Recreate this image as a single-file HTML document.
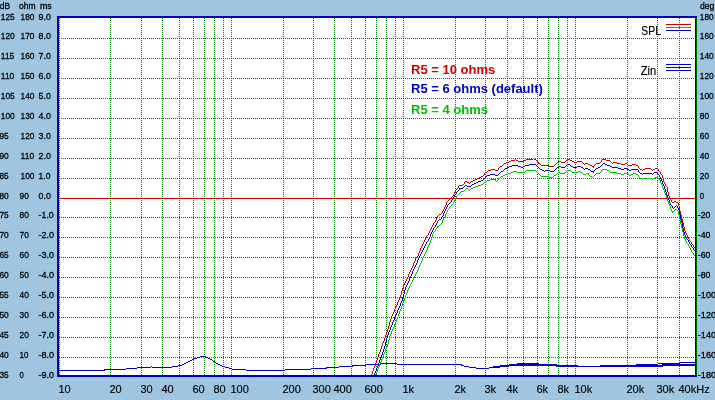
<!DOCTYPE html>
<html><head><meta charset="utf-8"><title>Frequency response</title>
<style>html,body{margin:0;padding:0;background:#9fc5e0;overflow:hidden}body{width:715px;height:400px}</style></head>
<body>
<svg width="715" height="400" viewBox="0 0 715 400" style="display:block">
<rect x="0" y="0" width="715" height="400" fill="#9fc5e0"/>
<rect x="59" y="18" width="636" height="357" fill="#ffffff"/>
<g stroke="#008000" stroke-width="1" shape-rendering="crispEdges" fill="none"><line x1="59" y1="38.5" x2="695" y2="38.5" stroke-dasharray="1 1" stroke-dashoffset="0"/><line x1="59" y1="58.5" x2="695" y2="58.5" stroke-dasharray="1 1" stroke-dashoffset="0"/><line x1="59" y1="78.5" x2="695" y2="78.5" stroke-dasharray="1 1" stroke-dashoffset="0"/><line x1="59" y1="98.5" x2="695" y2="98.5" stroke-dasharray="1 1" stroke-dashoffset="0"/><line x1="59" y1="118.5" x2="695" y2="118.5" stroke-dasharray="1 1" stroke-dashoffset="0"/><line x1="59" y1="138.5" x2="695" y2="138.5" stroke-dasharray="1 1" stroke-dashoffset="0"/><line x1="59" y1="158.5" x2="695" y2="158.5" stroke-dasharray="1 1" stroke-dashoffset="0"/><line x1="59" y1="178.5" x2="695" y2="178.5" stroke-dasharray="1 1" stroke-dashoffset="0"/><line x1="59" y1="217.5" x2="695" y2="217.5" stroke-dasharray="1 1" stroke-dashoffset="0"/><line x1="59" y1="237.5" x2="695" y2="237.5" stroke-dasharray="1 1" stroke-dashoffset="0"/><line x1="59" y1="257.5" x2="695" y2="257.5" stroke-dasharray="1 1" stroke-dashoffset="0"/><line x1="59" y1="277.5" x2="695" y2="277.5" stroke-dasharray="1 1" stroke-dashoffset="0"/><line x1="59" y1="297.5" x2="695" y2="297.5" stroke-dasharray="1 1" stroke-dashoffset="0"/><line x1="59" y1="317.5" x2="695" y2="317.5" stroke-dasharray="1 1" stroke-dashoffset="0"/><line x1="59" y1="337.5" x2="695" y2="337.5" stroke-dasharray="1 1" stroke-dashoffset="0"/><line x1="59" y1="357.5" x2="695" y2="357.5" stroke-dasharray="1 1" stroke-dashoffset="0"/><line x1="59.5" y1="18" x2="59.5" y2="375" stroke-dasharray="1 1"/><line x1="110.5" y1="18" x2="110.5" y2="375" stroke-dasharray="1 1"/><line x1="141.5" y1="18" x2="141.5" y2="375" stroke-dasharray="1 1"/><line x1="162.5" y1="18" x2="162.5" y2="375" stroke-dasharray="1 1"/><line x1="179.5" y1="18" x2="179.5" y2="375" stroke-dasharray="1 1"/><line x1="193.5" y1="18" x2="193.5" y2="375" stroke-dasharray="1 1"/><line x1="204.5" y1="18" x2="204.5" y2="375" stroke-dasharray="1 1"/><line x1="214.5" y1="18" x2="214.5" y2="375" stroke-dasharray="1 1"/><line x1="223.5" y1="18" x2="223.5" y2="375" stroke-dasharray="1 1"/><line x1="231.5" y1="18" x2="231.5" y2="375" stroke-dasharray="1 1"/><line x1="283.5" y1="18" x2="283.5" y2="375" stroke-dasharray="1 1"/><line x1="313.5" y1="18" x2="313.5" y2="375" stroke-dasharray="1 1"/><line x1="334.5" y1="18" x2="334.5" y2="375" stroke-dasharray="1 1"/><line x1="351.5" y1="18" x2="351.5" y2="375" stroke-dasharray="1 1"/><line x1="365.5" y1="18" x2="365.5" y2="375" stroke-dasharray="1 1"/><line x1="376.5" y1="18" x2="376.5" y2="375" stroke-dasharray="1 1"/><line x1="386.5" y1="18" x2="386.5" y2="375" stroke-dasharray="1 1"/><line x1="395.5" y1="18" x2="395.5" y2="375" stroke-dasharray="1 1"/><line x1="403.5" y1="18" x2="403.5" y2="375" stroke-dasharray="1 1"/><line x1="455.5" y1="18" x2="455.5" y2="375" stroke-dasharray="1 1"/><line x1="485.5" y1="18" x2="485.5" y2="375" stroke-dasharray="1 1"/><line x1="507.5" y1="18" x2="507.5" y2="375" stroke-dasharray="1 1"/><line x1="523.5" y1="18" x2="523.5" y2="375" stroke-dasharray="1 1"/><line x1="537.5" y1="18" x2="537.5" y2="375" stroke-dasharray="1 1"/><line x1="548.5" y1="18" x2="548.5" y2="375" stroke-dasharray="1 1"/><line x1="558.5" y1="18" x2="558.5" y2="375" stroke-dasharray="1 1"/><line x1="567.5" y1="18" x2="567.5" y2="375" stroke-dasharray="1 1"/><line x1="575.5" y1="18" x2="575.5" y2="375" stroke-dasharray="1 1"/><line x1="627.5" y1="18" x2="627.5" y2="375" stroke-dasharray="1 1"/><line x1="657.5" y1="18" x2="657.5" y2="375" stroke-dasharray="1 1"/><line x1="679.5" y1="18" x2="679.5" y2="375" stroke-dasharray="1 1"/></g>
<rect x="59" y="198" width="636" height="1" fill="#c80000"/>
<svg x="59" y="18" width="636" height="357" viewBox="59 18 636 357">
<g fill="none" stroke-width="1" shape-rendering="crispEdges" stroke-linejoin="round"><path d="M200 356.5h6M197 357.5h3M206 357.5h2M194 358.5h3M208 358.5h2M192 359.5h2M210 359.5h2M190 360.5h2M212 360.5h1M188 361.5h2M213 361.5h2M186 362.5h2M215 362.5h1M184 363.5h2M216 363.5h2M380 363.5h17M182 364.5h2M218 364.5h2M365 364.5h16M397 364.5h65M178 365.5h4M220 365.5h2M352 365.5h14M461 365.5h3M509 365.5h48M662 365.5h34M151 366.5h1M172 366.5h6M222 366.5h3M339 366.5h14M464 366.5h5M500 366.5h9M556 366.5h107M137 367.5h14M152 367.5h20M225 367.5h4M326 367.5h13M469 367.5h7M489 367.5h11M126 368.5h11M229 368.5h3M311 368.5h16M476 368.5h13M104 369.5h22M232 369.5h14M285 369.5h26M59 370.5h46M246 370.5h39" stroke="#0000c0" /><path d="M509 364.5h30M662 364.5h34M500 365.5h9M538 365.5h28M636 365.5h27M493 366.5h7M565 366.5h72M492 367.5h1" stroke="#0000c0" /><path d="M679 362.5h17M517 363.5h22M658 363.5h22M509 364.5h9M539 364.5h18M636 364.5h22M500 365.5h9M556 365.5h22M600 365.5h37M493 366.5h7M578 366.5h23M492 367.5h1" stroke="#0000c0" /><path d="M602 169.5h5M526 170.5h10M567 170.5h4M601 170.5h1M607 170.5h2M513 171.5h4M525 171.5h1M536 171.5h1M566 171.5h1M571 171.5h1M578 171.5h2M601 171.5h1M609 171.5h1M511 172.5h2M517 172.5h8M537 172.5h1M558 172.5h2M565 172.5h1M572 172.5h6M580 172.5h2M600 172.5h1M610 172.5h7M508 173.5h3M538 173.5h1M557 173.5h1M560 173.5h5M582 173.5h1M586 173.5h3M596 173.5h4M617 173.5h4M624 173.5h4M633 173.5h3M505 174.5h3M539 174.5h1M556 174.5h1M583 174.5h3M588 174.5h1M595 174.5h1M621 174.5h3M628 174.5h1M631 174.5h2M636 174.5h2M503 175.5h2M540 175.5h1M554 175.5h2M589 175.5h1M594 175.5h1M629 175.5h2M638 175.5h1M501 176.5h2M541 176.5h8M553 176.5h1M590 176.5h2M593 176.5h1M638 176.5h1M500 177.5h1M549 177.5h4M592 177.5h1M639 177.5h1M655 177.5h3M498 178.5h2M640 178.5h2M643 178.5h9M653 178.5h2M658 178.5h1M490 179.5h6M498 179.5h1M642 179.5h1M652 179.5h1M659 179.5h1M487 180.5h3M495 180.5h1M497 180.5h1M660 180.5h1M486 181.5h1M496 181.5h1M660 181.5h1M484 182.5h2M660 182.5h1M483 183.5h1M661 183.5h1M481 184.5h2M661 184.5h1M478 185.5h3M662 185.5h1M475 186.5h3M662 186.5h1M473 187.5h2M662 187.5h1M466 188.5h2M471 188.5h2M663 188.5h1M465 189.5h1M468 189.5h1M470 189.5h1M663 189.5h1M464 190.5h1M469 190.5h1M664 190.5h1M461 191.5h3M664 191.5h1M460 192.5h1M664 192.5h1M459 193.5h1M665 193.5h1M458 194.5h1M665 194.5h1M457 195.5h1M666 195.5h1M456 196.5h1M666 196.5h1M456 197.5h1M666 197.5h1M455 198.5h1M667 198.5h1M455 199.5h1M667 199.5h1M454 200.5h1M667 200.5h1M454 201.5h1M668 201.5h1M453 202.5h1M668 202.5h1M453 203.5h1M668 203.5h1M452 204.5h1M669 204.5h1M451 205.5h1M669 205.5h1M450 206.5h1M670 206.5h1M449 207.5h1M670 207.5h1M449 208.5h1M670 208.5h1M448 209.5h1M671 209.5h1M675 209.5h2M447 210.5h1M671 210.5h1M674 210.5h1M677 210.5h1M447 211.5h1M672 211.5h2M678 211.5h1M446 212.5h1M672 212.5h1M678 212.5h1M446 213.5h1M678 213.5h1M445 214.5h1M678 214.5h1M445 215.5h1M679 215.5h1M445 216.5h1M679 216.5h1M444 217.5h1M679 217.5h1M443 218.5h1M679 218.5h1M443 219.5h1M680 219.5h1M442 220.5h1M680 220.5h1M442 221.5h1M680 221.5h1M442 222.5h1M680 222.5h1M441 223.5h1M680 223.5h1M440 224.5h1M681 224.5h1M439 225.5h1M681 225.5h1M437 226.5h2M681 226.5h1M437 227.5h1M681 227.5h1M436 228.5h1M682 228.5h1M435 229.5h1M682 229.5h1M435 230.5h1M682 230.5h1M434 231.5h1M682 231.5h1M433 232.5h1M683 232.5h1M433 233.5h1M683 233.5h1M432 234.5h1M683 234.5h1M432 235.5h1M683 235.5h1M432 236.5h1M684 236.5h1M431 237.5h1M684 237.5h1M431 238.5h1M684 238.5h1M431 239.5h1M685 239.5h1M430 240.5h1M685 240.5h1M430 241.5h1M686 241.5h1M430 242.5h1M686 242.5h1M429 243.5h1M687 243.5h1M429 244.5h1M688 244.5h1M428 245.5h1M688 245.5h1M428 246.5h1M689 246.5h1M427 247.5h1M689 247.5h1M427 248.5h1M690 248.5h1M427 249.5h1M690 249.5h1M426 250.5h1M691 250.5h1M426 251.5h1M691 251.5h1M425 252.5h1M692 252.5h1M425 253.5h1M693 253.5h1M424 254.5h1M693 254.5h1M424 255.5h1M694 255.5h1M423 256.5h1M695 256.5h1M423 257.5h1M695 257.5h1M422 258.5h1M422 259.5h1M422 260.5h1M421 261.5h1M421 262.5h1M420 263.5h1M420 264.5h1M419 265.5h1M419 266.5h1M418 267.5h1M418 268.5h1M418 269.5h1M417 270.5h1M417 271.5h1M416 272.5h1M416 273.5h1M415 274.5h1M415 275.5h1M414 276.5h1M414 277.5h1M413 278.5h1M413 279.5h1M412 280.5h1M412 281.5h1M411 282.5h1M411 283.5h1M410 284.5h1M410 285.5h1M409 286.5h1M409 287.5h1M408 288.5h1M408 289.5h1M407 290.5h1M407 291.5h1M407 292.5h1M406 293.5h1M406 294.5h1M405 295.5h1M405 296.5h1M405 297.5h1M404 298.5h1M404 299.5h1M404 300.5h1M403 301.5h1M403 302.5h1M402 303.5h1M402 304.5h1M402 305.5h1M401 306.5h1M401 307.5h1M401 308.5h1M400 309.5h1M400 310.5h1M399 311.5h1M399 312.5h1M399 313.5h1M398 314.5h1M398 315.5h1M398 316.5h1M397 317.5h1M397 318.5h1M396 319.5h1M396 320.5h1M396 321.5h1M395 322.5h1M395 323.5h1M394 324.5h1M394 325.5h1M394 326.5h1M393 327.5h1M393 328.5h1M392 329.5h1M392 330.5h1M391 331.5h1M391 332.5h1M391 333.5h1M390 334.5h1M390 335.5h1M389 336.5h1M389 337.5h1M389 338.5h1M389 339.5h1M388 340.5h1M388 341.5h1M388 342.5h1M388 343.5h1M387 344.5h1M387 345.5h1M387 346.5h1M386 347.5h1M386 348.5h1M385 349.5h1M385 350.5h1M385 351.5h1M384 352.5h1M384 353.5h1M383 354.5h1M383 355.5h1M383 356.5h1M382 357.5h1M382 358.5h1M381 359.5h1M381 360.5h1M381 361.5h1M380 362.5h1M380 363.5h1M379 364.5h1M379 365.5h1M379 366.5h1M378 367.5h1M378 368.5h1M377 369.5h1M377 370.5h1M377 371.5h1M376 372.5h1M376 373.5h1M375 374.5h1M375 375.5h1" stroke="#00c000" /><path d="M533 158.5h1M515 159.5h1M526 159.5h7M534 159.5h2M567 159.5h3M602 159.5h4M511 160.5h4M516 160.5h2M524 160.5h2M536 160.5h1M566 160.5h1M570 160.5h2M601 160.5h1M606 160.5h4M509 161.5h2M518 161.5h6M537 161.5h1M558 161.5h3M565 161.5h1M572 161.5h2M577 161.5h5M601 161.5h1M610 161.5h1M506 162.5h3M538 162.5h1M557 162.5h1M561 162.5h4M574 162.5h3M582 162.5h1M600 162.5h1M611 162.5h1M613 162.5h4M504 163.5h2M538 163.5h2M556 163.5h1M583 163.5h1M585 163.5h3M596 163.5h4M612 163.5h1M617 163.5h4M625 163.5h2M503 164.5h1M540 164.5h1M555 164.5h1M584 164.5h1M588 164.5h2M595 164.5h1M621 164.5h4M627 164.5h1M632 164.5h4M502 165.5h1M541 165.5h8M554 165.5h1M590 165.5h2M594 165.5h1M628 165.5h4M636 165.5h2M500 166.5h2M549 166.5h5M592 166.5h2M638 166.5h1M499 167.5h1M593 167.5h1M638 167.5h1M498 168.5h1M639 168.5h1M645 168.5h6M655 168.5h3M491 169.5h4M498 169.5h1M640 169.5h2M643 169.5h2M651 169.5h1M653 169.5h2M658 169.5h1M488 170.5h3M495 170.5h3M642 170.5h1M652 170.5h1M658 170.5h1M487 171.5h1M659 171.5h1M485 172.5h2M660 172.5h1M484 173.5h1M660 173.5h1M484 174.5h1M661 174.5h1M483 175.5h1M662 175.5h1M481 176.5h2M662 176.5h1M479 177.5h2M662 177.5h1M477 178.5h2M663 178.5h1M475 179.5h2M663 179.5h1M473 180.5h2M663 180.5h1M465 181.5h2M471 181.5h2M663 181.5h1M464 182.5h1M467 182.5h2M470 182.5h1M664 182.5h1M464 183.5h1M469 183.5h1M664 183.5h1M463 184.5h1M665 184.5h1M459 185.5h4M665 185.5h1M458 186.5h1M666 186.5h1M458 187.5h1M667 187.5h1M457 188.5h1M667 188.5h1M456 189.5h1M667 189.5h1M455 190.5h1M667 190.5h1M455 191.5h1M667 191.5h1M454 192.5h1M668 192.5h1M454 193.5h1M668 193.5h1M453 194.5h1M668 194.5h1M453 195.5h1M668 195.5h1M452 196.5h1M669 196.5h1M451 197.5h1M669 197.5h1M450 198.5h1M670 198.5h1M449 199.5h1M670 199.5h1M448 200.5h1M671 200.5h1M447 201.5h1M671 201.5h1M674 201.5h2M446 202.5h1M672 202.5h2M676 202.5h2M446 203.5h1M678 203.5h1M446 204.5h1M678 204.5h1M445 205.5h1M678 205.5h1M445 206.5h1M679 206.5h1M444 207.5h1M679 207.5h1M444 208.5h1M679 208.5h1M443 209.5h1M679 209.5h1M443 210.5h1M679 210.5h1M442 211.5h1M680 211.5h1M442 212.5h1M680 212.5h1M441 213.5h1M680 213.5h1M439 214.5h2M680 214.5h1M438 215.5h1M681 215.5h1M437 216.5h1M681 216.5h1M436 217.5h1M681 217.5h1M436 218.5h1M681 218.5h1M436 219.5h1M682 219.5h1M435 220.5h1M682 220.5h1M435 221.5h1M682 221.5h1M434 222.5h1M682 222.5h1M433 223.5h1M683 223.5h1M433 224.5h1M683 224.5h1M432 225.5h1M683 225.5h1M432 226.5h1M683 226.5h1M431 227.5h1M684 227.5h1M431 228.5h1M684 228.5h1M430 229.5h1M684 229.5h1M430 230.5h1M684 230.5h1M429 231.5h1M685 231.5h1M429 232.5h1M685 232.5h1M428 233.5h1M686 233.5h1M428 234.5h1M686 234.5h1M427 235.5h1M687 235.5h1M426 236.5h1M687 236.5h1M426 237.5h1M688 237.5h1M425 238.5h1M688 238.5h1M425 239.5h1M689 239.5h1M424 240.5h1M689 240.5h1M424 241.5h1M690 241.5h1M423 242.5h1M691 242.5h1M423 243.5h1M691 243.5h1M422 244.5h1M692 244.5h1M422 245.5h1M693 245.5h1M421 246.5h1M693 246.5h1M421 247.5h1M694 247.5h1M420 248.5h1M695 248.5h1M420 249.5h1M420 250.5h1M419 251.5h1M419 252.5h1M418 253.5h1M418 254.5h1M418 255.5h1M417 256.5h1M416 257.5h1M415 258.5h1M415 259.5h1M415 260.5h1M414 261.5h1M414 262.5h1M413 263.5h1M413 264.5h1M413 265.5h1M412 266.5h1M412 267.5h1M411 268.5h1M411 269.5h1M410 270.5h1M410 271.5h1M409 272.5h1M409 273.5h1M408 274.5h1M408 275.5h1M408 276.5h1M407 277.5h1M407 278.5h1M406 279.5h1M406 280.5h1M405 281.5h1M405 282.5h1M404 283.5h1M404 284.5h1M403 285.5h1M403 286.5h1M403 287.5h1M402 288.5h1M402 289.5h1M402 290.5h1M401 291.5h1M401 292.5h1M401 293.5h1M401 294.5h1M400 295.5h1M400 296.5h1M400 297.5h1M399 298.5h1M399 299.5h1M398 300.5h1M398 301.5h1M397 302.5h1M397 303.5h1M397 304.5h1M396 305.5h1M396 306.5h1M395 307.5h1M395 308.5h1M394 309.5h1M394 310.5h1M394 311.5h1M393 312.5h1M393 313.5h1M392 314.5h1M392 315.5h1M391 316.5h1M391 317.5h1M391 318.5h1M390 319.5h1M390 320.5h1M390 321.5h1M389 322.5h1M389 323.5h1M389 324.5h1M389 325.5h1M388 326.5h1M388 327.5h1M388 328.5h1M387 329.5h1M387 330.5h1M387 331.5h1M386 332.5h1M386 333.5h1M386 334.5h1M385 335.5h1M385 336.5h1M385 337.5h1M384 338.5h1M384 339.5h1M384 340.5h1M383 341.5h1M383 342.5h1M382 343.5h1M382 344.5h1M382 345.5h1M381 346.5h1M381 347.5h1M381 348.5h1M380 349.5h1M380 350.5h1M380 351.5h1M379 352.5h1M379 353.5h1M378 354.5h1M378 355.5h1M378 356.5h1M377 357.5h1M377 358.5h1M377 359.5h1M376 360.5h1M376 361.5h1M376 362.5h1M375 363.5h1M375 364.5h1M375 365.5h1M374 366.5h1M374 367.5h1M373 368.5h1M373 369.5h1M373 370.5h1M372 371.5h1M372 372.5h1M372 373.5h1M371 374.5h1M371 375.5h1" stroke="#c80000" /><path d="M603 163.5h2M529 164.5h7M567 164.5h3M602 164.5h1M605 164.5h2M512 165.5h6M525 165.5h4M536 165.5h1M566 165.5h1M570 165.5h1M601 165.5h1M607 165.5h3M509 166.5h3M518 166.5h3M523 166.5h2M537 166.5h1M559 166.5h2M565 166.5h1M571 166.5h2M577 166.5h4M600 166.5h1M610 166.5h2M507 167.5h2M521 167.5h2M538 167.5h1M557 167.5h2M561 167.5h4M573 167.5h4M581 167.5h2M598 167.5h2M612 167.5h6M505 168.5h2M539 168.5h1M556 168.5h1M583 168.5h1M585 168.5h3M596 168.5h2M618 168.5h3M624 168.5h3M504 169.5h1M540 169.5h2M555 169.5h1M584 169.5h1M588 169.5h2M595 169.5h1M621 169.5h3M627 169.5h2M631 169.5h7M503 170.5h1M542 170.5h2M545 170.5h5M554 170.5h1M590 170.5h1M594 170.5h1M629 170.5h2M638 170.5h1M501 171.5h2M544 171.5h1M550 171.5h4M591 171.5h3M638 171.5h1M500 172.5h1M593 172.5h1M639 172.5h1M654 172.5h3M499 173.5h1M640 173.5h2M643 173.5h9M653 173.5h1M657 173.5h1M490 174.5h5M498 174.5h1M642 174.5h1M652 174.5h1M658 174.5h1M487 175.5h3M495 175.5h3M659 175.5h1M486 176.5h1M659 176.5h1M485 177.5h1M660 177.5h1M484 178.5h1M660 178.5h1M483 179.5h1M661 179.5h1M481 180.5h2M661 180.5h1M478 181.5h3M662 181.5h1M476 182.5h2M662 182.5h1M474 183.5h2M662 183.5h1M472 184.5h2M663 184.5h1M465 185.5h2M471 185.5h1M663 185.5h1M464 186.5h1M467 186.5h4M664 186.5h1M463 187.5h1M664 187.5h1M459 188.5h4M664 188.5h1M459 189.5h1M665 189.5h1M458 190.5h1M665 190.5h1M457 191.5h1M665 191.5h1M456 192.5h1M666 192.5h1M456 193.5h1M666 193.5h1M455 194.5h1M666 194.5h1M454 195.5h1M667 195.5h1M454 196.5h1M667 196.5h1M453 197.5h1M667 197.5h1M453 198.5h1M668 198.5h1M452 199.5h1M668 199.5h1M451 200.5h1M669 200.5h1M451 201.5h1M669 201.5h1M450 202.5h1M669 202.5h1M449 203.5h1M670 203.5h1M448 204.5h1M670 204.5h1M447 205.5h1M671 205.5h1M676 205.5h1M447 206.5h1M672 206.5h1M675 206.5h1M677 206.5h1M446 207.5h1M672 207.5h1M674 207.5h1M677 207.5h1M446 208.5h1M673 208.5h1M678 208.5h1M445 209.5h1M678 209.5h1M445 210.5h1M679 210.5h1M444 211.5h1M679 211.5h1M444 212.5h1M679 212.5h1M443 213.5h1M679 213.5h1M443 214.5h1M680 214.5h1M443 215.5h1M680 215.5h1M442 216.5h1M680 216.5h1M441 217.5h1M680 217.5h1M441 218.5h1M680 218.5h1M439 219.5h2M681 219.5h1M438 220.5h1M681 220.5h1M437 221.5h1M681 221.5h1M437 222.5h1M681 222.5h1M436 223.5h1M682 223.5h1M436 224.5h1M682 224.5h1M435 225.5h1M682 225.5h1M435 226.5h1M682 226.5h1M434 227.5h1M682 227.5h1M433 228.5h1M683 228.5h1M433 229.5h1M683 229.5h1M432 230.5h1M683 230.5h1M432 231.5h1M683 231.5h1M431 232.5h1M684 232.5h1M431 233.5h1M684 233.5h1M430 234.5h1M684 234.5h1M430 235.5h1M685 235.5h1M430 236.5h1M685 236.5h1M429 237.5h1M686 237.5h1M429 238.5h1M686 238.5h1M428 239.5h1M687 239.5h1M428 240.5h1M688 240.5h1M427 241.5h1M688 241.5h1M426 242.5h1M689 242.5h1M426 243.5h1M689 243.5h1M425 244.5h1M690 244.5h1M425 245.5h1M691 245.5h1M424 246.5h1M691 246.5h1M424 247.5h1M692 247.5h1M423 248.5h1M693 248.5h1M423 249.5h1M693 249.5h1M422 250.5h1M694 250.5h1M422 251.5h1M695 251.5h1M421 252.5h1M695 252.5h1M421 253.5h1M420 254.5h1M420 255.5h1M419 256.5h1M419 257.5h1M418 258.5h1M418 259.5h1M417 260.5h1M417 261.5h1M417 262.5h1M416 263.5h1M416 264.5h1M415 265.5h1M415 266.5h1M414 267.5h1M414 268.5h1M413 269.5h1M413 270.5h1M412 271.5h1M412 272.5h1M412 273.5h1M411 274.5h1M411 275.5h1M410 276.5h1M410 277.5h1M409 278.5h1M409 279.5h1M409 280.5h1M408 281.5h1M408 282.5h1M407 283.5h1M407 284.5h1M406 285.5h1M406 286.5h1M405 287.5h1M405 288.5h1M405 289.5h1M404 290.5h1M404 291.5h1M404 292.5h1M404 293.5h1M403 294.5h1M403 295.5h1M403 296.5h1M402 297.5h1M402 298.5h1M402 299.5h1M402 300.5h1M401 301.5h1M401 302.5h1M400 303.5h1M400 304.5h1M400 305.5h1M399 306.5h1M399 307.5h1M398 308.5h1M398 309.5h1M397 310.5h1M397 311.5h1M397 312.5h1M396 313.5h1M396 314.5h1M395 315.5h1M395 316.5h1M394 317.5h1M394 318.5h1M394 319.5h1M393 320.5h1M393 321.5h1M392 322.5h1M392 323.5h1M392 324.5h1M391 325.5h1M391 326.5h1M390 327.5h1M390 328.5h1M390 329.5h1M389 330.5h1M389 331.5h1M388 332.5h1M388 333.5h1M388 334.5h1M387 335.5h1M387 336.5h1M387 337.5h1M386 338.5h1M386 339.5h1M386 340.5h1M386 341.5h1M385 342.5h1M385 343.5h1M385 344.5h1M385 345.5h1M384 346.5h1M384 347.5h1M384 348.5h1M383 349.5h1M383 350.5h1M383 351.5h1M382 352.5h1M382 353.5h1M382 354.5h1M381 355.5h1M381 356.5h1M380 357.5h1M380 358.5h1M380 359.5h1M379 360.5h1M379 361.5h1M379 362.5h1M378 363.5h1M378 364.5h1M378 365.5h1M377 366.5h1M377 367.5h1M376 368.5h1M376 369.5h1M376 370.5h1M375 371.5h1M375 372.5h1M374 373.5h1M374 374.5h1M374 375.5h1" stroke="#0000c0" /></g>
</svg>
<g fill="#0000c0" shape-rendering="crispEdges"><rect x="57" y="16" width="640" height="2"/><rect x="57" y="375" width="640" height="2"/><rect x="57" y="16" width="2" height="361"/><rect x="695" y="16" width="2" height="361"/></g>
<line x1="696.5" y1="18" x2="696.5" y2="375" stroke="#008000" stroke-width="1" stroke-dasharray="1 1" shape-rendering="crispEdges"/>
<g shape-rendering="crispEdges"><rect x="666" y="24" width="25" height="1" fill="#c80000"/><rect x="666" y="27" width="25" height="1" fill="#00c000"/><rect x="666" y="30" width="25" height="1" fill="#0000c0"/><rect x="666" y="64" width="25" height="1" fill="#0000c0"/><rect x="666" y="67" width="25" height="1" fill="#0000c0"/><rect x="666" y="70" width="25" height="1" fill="#0000c0"/></g>
<g font-family='"Liberation Sans", Arial, sans-serif' font-size="9.8" fill="#000" stroke="#000" stroke-width="0.3"><text x="0.8" y="19.6" textLength="13.9" lengthAdjust="spacingAndGlyphs">125</text><text x="20.6" y="19.6" textLength="13.9" lengthAdjust="spacingAndGlyphs">180</text><text x="38.6" y="19.6" textLength="12.3" lengthAdjust="spacingAndGlyphs">9.0</text><text x="0.8" y="38.6" textLength="13.9" lengthAdjust="spacingAndGlyphs">120</text><text x="20.6" y="38.6" textLength="13.9" lengthAdjust="spacingAndGlyphs">170</text><text x="38.6" y="38.6" textLength="12.3" lengthAdjust="spacingAndGlyphs">8.0</text><text x="0.8" y="58.6" textLength="13.5" lengthAdjust="spacingAndGlyphs">115</text><text x="20.6" y="58.6" textLength="13.9" lengthAdjust="spacingAndGlyphs">160</text><text x="38.6" y="58.6" textLength="12.3" lengthAdjust="spacingAndGlyphs">7.0</text><text x="0.8" y="78.6" textLength="13.5" lengthAdjust="spacingAndGlyphs">110</text><text x="20.6" y="78.6" textLength="13.9" lengthAdjust="spacingAndGlyphs">150</text><text x="38.6" y="78.6" textLength="12.3" lengthAdjust="spacingAndGlyphs">6.0</text><text x="0.8" y="98.6" textLength="13.9" lengthAdjust="spacingAndGlyphs">105</text><text x="20.6" y="98.6" textLength="13.9" lengthAdjust="spacingAndGlyphs">140</text><text x="38.6" y="98.6" textLength="12.3" lengthAdjust="spacingAndGlyphs">5.0</text><text x="0.8" y="118.6" textLength="13.9" lengthAdjust="spacingAndGlyphs">100</text><text x="20.6" y="118.6" textLength="13.9" lengthAdjust="spacingAndGlyphs">130</text><text x="38.6" y="118.6" textLength="12.3" lengthAdjust="spacingAndGlyphs">4.0</text><text x="-0.6" y="138.6" textLength="9.3" lengthAdjust="spacingAndGlyphs">95</text><text x="20.6" y="138.6" textLength="13.9" lengthAdjust="spacingAndGlyphs">120</text><text x="38.6" y="138.6" textLength="12.3" lengthAdjust="spacingAndGlyphs">3.0</text><text x="-0.6" y="158.6" textLength="9.3" lengthAdjust="spacingAndGlyphs">90</text><text x="20.6" y="158.6" textLength="13.5" lengthAdjust="spacingAndGlyphs">110</text><text x="38.6" y="158.6" textLength="12.3" lengthAdjust="spacingAndGlyphs">2.0</text><text x="-0.6" y="178.6" textLength="9.3" lengthAdjust="spacingAndGlyphs">85</text><text x="20.6" y="178.6" textLength="13.9" lengthAdjust="spacingAndGlyphs">100</text><text x="38.6" y="178.6" textLength="11.9" lengthAdjust="spacingAndGlyphs">1.0</text><text x="-0.6" y="198.6" textLength="9.3" lengthAdjust="spacingAndGlyphs">80</text><text x="19.6" y="198.6" textLength="9.3" lengthAdjust="spacingAndGlyphs">90</text><text x="38.6" y="198.6" textLength="12.3" lengthAdjust="spacingAndGlyphs">0.0</text><text x="-0.6" y="217.6" textLength="9.3" lengthAdjust="spacingAndGlyphs">75</text><text x="19.6" y="217.6" textLength="9.3" lengthAdjust="spacingAndGlyphs">80</text><text x="38.6" y="217.6" textLength="15.1" lengthAdjust="spacingAndGlyphs">-1.0</text><text x="-0.6" y="237.6" textLength="9.3" lengthAdjust="spacingAndGlyphs">70</text><text x="19.6" y="237.6" textLength="9.3" lengthAdjust="spacingAndGlyphs">70</text><text x="38.6" y="237.6" textLength="15.5" lengthAdjust="spacingAndGlyphs">-2.0</text><text x="-0.6" y="257.6" textLength="9.3" lengthAdjust="spacingAndGlyphs">65</text><text x="19.6" y="257.6" textLength="9.3" lengthAdjust="spacingAndGlyphs">60</text><text x="38.6" y="257.6" textLength="15.5" lengthAdjust="spacingAndGlyphs">-3.0</text><text x="-0.6" y="277.6" textLength="9.3" lengthAdjust="spacingAndGlyphs">60</text><text x="19.6" y="277.6" textLength="9.3" lengthAdjust="spacingAndGlyphs">50</text><text x="38.6" y="277.6" textLength="15.5" lengthAdjust="spacingAndGlyphs">-4.0</text><text x="-0.6" y="297.6" textLength="9.3" lengthAdjust="spacingAndGlyphs">55</text><text x="19.6" y="297.6" textLength="9.3" lengthAdjust="spacingAndGlyphs">40</text><text x="38.6" y="297.6" textLength="15.5" lengthAdjust="spacingAndGlyphs">-5.0</text><text x="-0.6" y="317.6" textLength="9.3" lengthAdjust="spacingAndGlyphs">50</text><text x="19.6" y="317.6" textLength="9.3" lengthAdjust="spacingAndGlyphs">30</text><text x="38.6" y="317.6" textLength="15.5" lengthAdjust="spacingAndGlyphs">-6.0</text><text x="-0.6" y="337.6" textLength="9.3" lengthAdjust="spacingAndGlyphs">45</text><text x="19.6" y="337.6" textLength="9.3" lengthAdjust="spacingAndGlyphs">20</text><text x="38.6" y="337.6" textLength="15.5" lengthAdjust="spacingAndGlyphs">-7.0</text><text x="-0.6" y="357.6" textLength="9.3" lengthAdjust="spacingAndGlyphs">40</text><text x="19.6" y="357.6" textLength="8.9" lengthAdjust="spacingAndGlyphs">10</text><text x="38.6" y="357.6" textLength="15.5" lengthAdjust="spacingAndGlyphs">-8.0</text><text x="-0.6" y="377.6" textLength="9.3" lengthAdjust="spacingAndGlyphs">35</text><text x="19.6" y="377.6" textLength="4.3" lengthAdjust="spacingAndGlyphs">0</text><text x="38.6" y="377.6" textLength="15.5" lengthAdjust="spacingAndGlyphs">-9.0</text><text x="-0.2" y="8.7" textLength="10.4" lengthAdjust="spacingAndGlyphs">dB</text><text x="18.9" y="8.7" textLength="16.6" lengthAdjust="spacingAndGlyphs">ohm</text><text x="40" y="8.7" textLength="11.8" lengthAdjust="spacingAndGlyphs">ms</text><text x="699.8" y="19.6" textLength="13.9" lengthAdjust="spacingAndGlyphs">180</text><text x="699.8" y="38.6" textLength="13.9" lengthAdjust="spacingAndGlyphs">160</text><text x="699.8" y="58.6" textLength="13.9" lengthAdjust="spacingAndGlyphs">140</text><text x="699.8" y="78.6" textLength="13.9" lengthAdjust="spacingAndGlyphs">120</text><text x="699.8" y="98.6" textLength="13.9" lengthAdjust="spacingAndGlyphs">100</text><text x="699.8" y="118.6" textLength="9.3" lengthAdjust="spacingAndGlyphs">80</text><text x="699.8" y="138.6" textLength="9.3" lengthAdjust="spacingAndGlyphs">60</text><text x="699.8" y="158.6" textLength="9.3" lengthAdjust="spacingAndGlyphs">40</text><text x="699.8" y="178.6" textLength="9.3" lengthAdjust="spacingAndGlyphs">20</text><text x="699.8" y="198.6" textLength="4.3" lengthAdjust="spacingAndGlyphs">0</text><text x="697.8" y="217.6" textLength="12.5" lengthAdjust="spacingAndGlyphs">-20</text><text x="697.8" y="237.6" textLength="12.5" lengthAdjust="spacingAndGlyphs">-40</text><text x="697.8" y="257.6" textLength="12.5" lengthAdjust="spacingAndGlyphs">-60</text><text x="697.8" y="277.6" textLength="12.5" lengthAdjust="spacingAndGlyphs">-80</text><text x="697.8" y="297.6" textLength="18.3" lengthAdjust="spacingAndGlyphs">-100</text><text x="697.8" y="317.6" textLength="18.3" lengthAdjust="spacingAndGlyphs">-120</text><text x="697.8" y="337.6" textLength="18.3" lengthAdjust="spacingAndGlyphs">-140</text><text x="697.8" y="357.6" textLength="18.3" lengthAdjust="spacingAndGlyphs">-160</text><text x="697.8" y="377.6" textLength="18.3" lengthAdjust="spacingAndGlyphs">-180</text><text x="699.9" y="8.7" textLength="14.5" lengthAdjust="spacingAndGlyphs">deg</text></g>
<g font-family='"Liberation Sans", Arial, sans-serif' font-size="11" fill="#000" stroke="#000" stroke-width="0.15"><text x="58.5" y="392.6">10</text><text x="109.5" y="392.6">20</text><text x="140.5" y="392.6">30</text><text x="161.5" y="392.6">40</text><text x="192.5" y="392.6">60</text><text x="213.5" y="392.6">80</text><text x="230.5" y="392.6">100</text><text x="282.5" y="392.6">200</text><text x="312.5" y="392.6">300</text><text x="333.5" y="392.6">400</text><text x="364.5" y="392.6">600</text><text x="402.5" y="392.6">1k</text><text x="454.5" y="392.6">2k</text><text x="484.5" y="392.6">3k</text><text x="506.5" y="392.6">4k</text><text x="536.5" y="392.6">6k</text><text x="557.5" y="392.6">8k</text><text x="574.5" y="392.6">10k</text><text x="626.5" y="392.6">20k</text><text x="656.5" y="392.6">30k</text><text x="678.5" y="392.6">40kHz</text></g>
<g font-family='"Liberation Sans", Arial, sans-serif' font-size="12" fill="#000" stroke="#000" stroke-width="0.15"><text x="641.3" y="35" textLength="19.6" lengthAdjust="spacingAndGlyphs">SPL</text><text x="640.8" y="75" textLength="15.4" lengthAdjust="spacingAndGlyphs">Zin</text></g>
<g font-family='"Liberation Sans", Arial, sans-serif' font-size="13" font-weight="bold"><text x="411" y="74" fill="#c80000">R5 = 10 ohms</text><text x="411" y="92.6" fill="#0000c0">R5 = 6 ohms (default)</text><text x="411" y="113.5" fill="#00c000">R5 = 4 ohms</text></g>
</svg>
</body></html>
